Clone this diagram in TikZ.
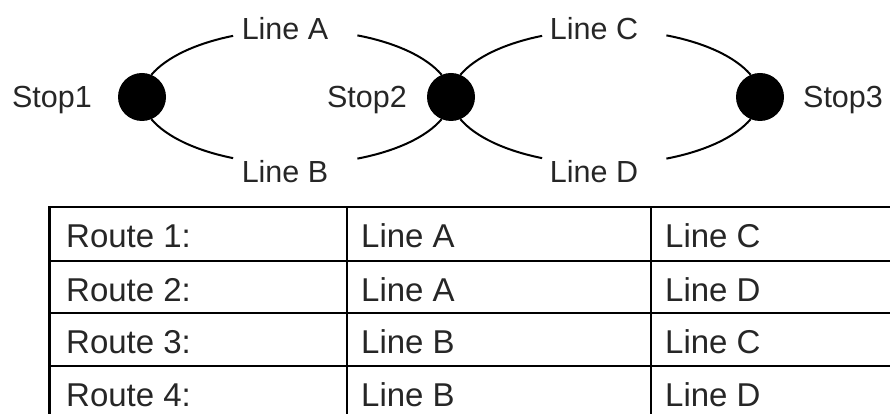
\documentclass[tikz,border=0pt]{standalone}
\usepackage{fontspec}
\setmainfont{Liberation Sans}
\begin{document}
\begin{tikzpicture}[x=1pt,y=1pt,
  stop/.style={circle,fill=black,minimum size=48pt,inner sep=0pt},
  lbl/.style={font=\fontsize{30.5}{36}\selectfont,inner sep=0pt,text=black!85},
  cell/.style={font=\fontsize{33}{40}\selectfont,inner sep=0pt,anchor=base west,text=black!85},
  route/.style={line width=2pt},
  ell/.style={x radius=155,y radius=70},
  grid/.style={line width=2.3pt}]
\useasboundingbox (0,0) rectangle (890,414);
\clip (0,0) rectangle (890,414);
% stops
\node[stop] (s1) at (142,317) {};
\node[stop] (s2) at (451,317) {};
\node[stop] (s3) at (760,317) {};
\node[lbl,anchor=base] (t1) at (52,306) {Stop1};
\node[lbl,anchor=base] (t2) at (367,306) {Stop2};
\node[lbl,anchor=base] (t3) at (843,306) {Stop3};
% line labels
\node[lbl] (la) at (285,385) {Line A};
\node[lbl] (lb) at (285,242) {Line B};
\node[lbl] (lc) at (594,385) {Line C};
\node[lbl] (ld) at (594,242) {Line D};
% routes (elliptical arcs broken by the labels)
\draw[route] (s1.67) arc[ell,start angle=159,end angle=114];
\draw[route] (s2.113) arc[ell,start angle=21,end angle=67];
\draw[route] (s1.-67) arc[ell,start angle=-159,end angle=-114];
\draw[route] (s2.-113) arc[ell,start angle=-21,end angle=-67];
\draw[route] (s2.67) arc[ell,start angle=159,end angle=114];
\draw[route] (s3.113) arc[ell,start angle=21,end angle=67];
\draw[route] (s2.-67) arc[ell,start angle=-159,end angle=-114];
\draw[route] (s3.-113) arc[ell,start angle=-21,end angle=-67];
% table
\draw[grid] (49.5,-10) rectangle (900,207);
\draw[grid] (49.5,153) -- (900,153);
\draw[grid] (49.5,101) -- (900,101);
\draw[grid] (49.5,48) -- (900,48);
\draw[grid] (347,207) -- (347,-10);
\draw[grid] (651,207) -- (651,-10);
\node[cell] (r1a) at (66,166) {Route 1:};
\node[cell] (r1b) at (361,166) {Line A};
\node[cell] (r1c) at (665,166) {Line C};
\node[cell] (r2a) at (66,112.5) {Route 2:};
\node[cell] (r2b) at (361,112.5) {Line A};
\node[cell] (r2c) at (665,112.5) {Line D};
\node[cell] (r3a) at (66,60) {Route 3:};
\node[cell] (r3b) at (361,60) {Line B};
\node[cell] (r3c) at (665,60) {Line C};
\node[cell] (r4a) at (66,7.5) {Route 4:};
\node[cell] (r4b) at (361,7.5) {Line B};
\node[cell] (r4c) at (665,7.5) {Line D};
\end{tikzpicture}
\end{document}
